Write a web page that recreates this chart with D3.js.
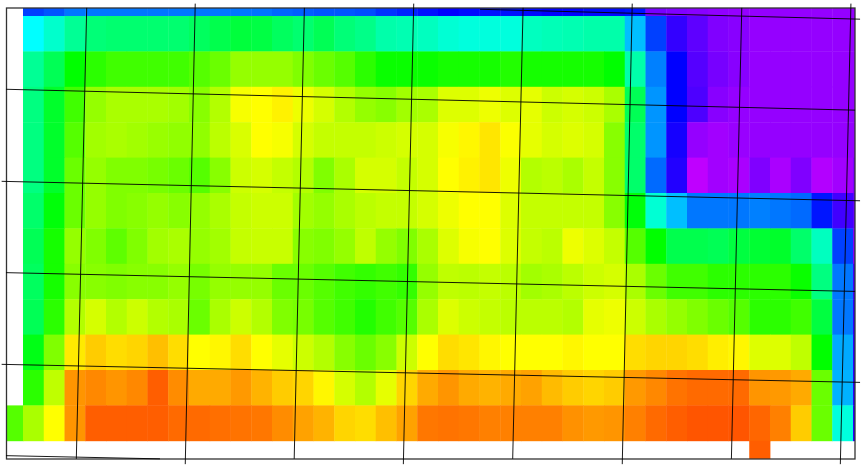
<!DOCTYPE html>
<html><head><meta charset="utf-8">
<script src="https://cdn.jsdelivr.net/npm/d3@7/dist/d3.min.js"></script>
<style>html,body{margin:0;padding:0;background:#fff}svg{display:block}</style>
</head><body><svg id="c" width="861" height="467"></svg>
<script>
// Field values in colour-index units, one row per band, columns 0..41
const n = null;
const row0  = [n,225,220,212,212,212,212,212,212,212,212,212,213,216,218,220,220,222,228,232,236,240,238,236,236,238,240,240,238,238,236,268,270,272,274,275,275,275,275,275,275,275];
const row1  = [n,180,168,155,148,146,146,146,146,142,138,134,136,142,146,140,148,152,160,162,165,170,172,172,172,165,163,162,160,160,195,225,252,262,270,272,275,275,275,275,275,275];
const row2  = [n,155,140,120,110,105,105,105,105,100,95,85,85,85,90,95,100,110,118,118,118,115,115,115,112,115,115,115,115,120,160,210,240,260,268,272,275,275,275,275,275,275];
const row3  = [n,150,130,105,85,80,80,80,82,88,78,62,60,57,64,70,78,85,88,82,80,68,68,64,68,66,72,70,72,80,140,205,240,258,272,275,275,275,275,275,275,275];
const row4  = [n,150,130,100,82,80,82,84,86,86,76,69,60,62,70,74,74,74,72,70,70,62,58,54,61,66,70,68,70,88,145,205,245,275,278,276,275,275,275,275,275,275];
const row5  = [n,150,130,95,85,90,90,92,95,100,88,72,70,74,78,90,80,70,70,74,70,60,57,54,64,78,76,80,74,88,145,215,248,285,278,280,270,280,270,282,278,270];
const row6  = [n,145,122,95,85,90,88,85,88,85,80,74,72,72,82,85,80,76,74,74,70,64,60,60,68,74,74,74,74,88,122,170,195,212,212,212,210,212,215,235,255,262];
const row7  = [n,140,115,85,90,98,90,82,80,85,82,74,73,73,88,90,85,75,85,90,80,68,62,60,68,74,76,64,68,74,100,120,138,138,140,135,132,130,145,165,225,270];
const row8  = [n,142,115,88,88,90,88,88,85,92,85,85,85,95,95,100,105,108,105,108,85,75,76,74,76,82,80,76,72,70,80,95,105,105,110,110,110,110,118,150,212,255];
const row9  = [n,140,110,78,70,78,72,78,80,95,80,72,78,90,92,100,105,112,105,100,80,68,72,74,76,76,76,78,66,64,72,80,85,90,95,100,110,110,105,135,212,250];
const row10 = [n,125,90,55,48,52,50,45,52,60,58,52,60,66,72,78,88,95,88,72,60,52,54,58,60,60,60,58,60,60,52,50,50,52,56,58,68,68,75,120,200,250];
const row11 = [n,110,75,35,32,35,32,22,33,40,40,36,42,48,50,58,70,78,66,50,40,35,40,42,40,38,44,48,50,48,36,32,27,25,25,25,35,36,40,95,198,250];
const row12 = [100,80,60,35,22,22,22,22,25,25,26,27,28,33,38,42,50,52,45,38,28,27,28,30,30,30,30,34,36,35,30,25,22,20,20,20,24,30,48,95,172,250];
const row13 = [n,n,n,n,n,n,n,n,n,n,n,n,n,n,n,n,n,n,n,n,n,n,n,n,n,n,n,n,n,n,n,n,n,n,n,n,22,n,n,n,n,n];
const rows = [row0,row1,row2,row3,row4,row5,row6,row7,row8,row9,row10,row11,row12,row13];

// Graticule meridians and parallels as [column, band] end points
const meridian1 = [[4.07,0.77],[3.57,13.51]];
const meridian2 = [[9.30,0.65],[8.82,13.66]];
const meridian3 = [[14.56,0.77],[14.07,13.51]];
const meridian4 = [[19.83,0.65],[19.33,13.66]];
const meridian5 = [[25.10,0.77],[24.60,13.51]];
const meridian6 = [[30.36,0.65],[29.88,13.66]];
const meridian7 = [[35.64,0.77],[35.14,13.51]];
const meridian8 = [[40.90,0.65],[40.39,13.66]];
const parallel1 = [[23.02,0.81],[41.34,1.09]];
const parallel2 = [[0.18,3.07],[41.10,3.66]];
const parallel3 = [[-0.03,5.67],[41.34,6.22]];
const parallel4 = [[0.18,8.25],[41.10,8.78]];
const parallel5 = [[-0.03,10.84],[41.34,11.35]];
const parallel6 = [[0.18,13.42],[7.60,13.51]];
const graticule = [meridian1,meridian2,meridian3,meridian4,meridian5,meridian6,meridian7,meridian8,
                   parallel1,parallel2,parallel3,parallel4,parallel5,parallel6];

const frame = {left:6.5, top:8, right:855, bottom:459};
const x = d3.scaleLinear().domain([1,41]).range([23,853]);
const y = d3.scaleLinear().domain([1,13]).range([16,440.8]);
const hue = d3.scaleLinear().domain([20,280]).range([20,280]);

const svg = d3.select('#c');
svg.append('defs').append('clipPath').attr('id','plot').append('rect')
  .attr('x',frame.left).attr('y',frame.top)
  .attr('width',frame.right-frame.left).attr('height',frame.bottom-frame.top);

const cells = rows.flatMap((r,ri)=>r.map((v,ci)=>({v,ri,ci}))).filter(d=>d.v!==null);
svg.append('g').attr('clip-path','url(#plot)').selectAll('rect').data(cells).join('rect')
  .attr('x',d=>x(d.ci)).attr('y',d=>y(d.ri))
  .attr('width',d=>x(d.ci+1)-x(d.ci)+0.4).attr('height',d=>y(d.ri+1)-y(d.ri)+0.4)
  .attr('fill',d=>d3.hsl(hue(d.v),1,0.5).formatHex());

svg.append('rect').attr('x',frame.left).attr('y',frame.top)
  .attr('width',frame.right-frame.left).attr('height',frame.bottom-frame.top)
  .attr('fill','none').attr('stroke','#333').attr('stroke-width',1.3);

const line = d3.line().x(d=>x(d[0])).y(d=>y(d[1]));
svg.append('g').selectAll('path').data(graticule).join('path')
  .attr('d',line).attr('fill','none').attr('stroke','#000').attr('stroke-width',0.9);
</script></body></html>
